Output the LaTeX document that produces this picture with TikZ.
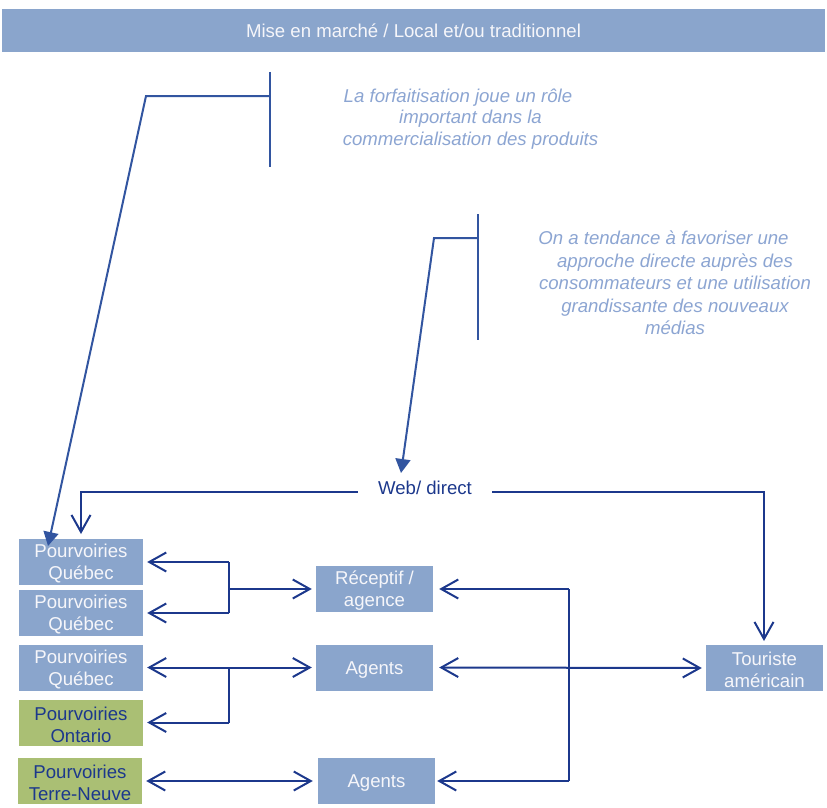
\documentclass[tikz,border=0pt]{standalone}
\usepackage{fontspec}
\setmainfont{Liberation Sans}
\usetikzlibrary{arrows.meta}
\definecolor{boxblue}{RGB}{138,165,204}
\definecolor{boxgreen}{RGB}{170,191,116}
\definecolor{navy}{RGB}{28,56,140}
\definecolor{callline}{RGB}{50,85,160}
\definecolor{calltext}{RGB}{140,165,210}
\definecolor{boxtext}{RGB}{246,246,250}
\newcommand{\lowstrut}{\rule{0pt}{17.5pt}}
\begin{document}
\begin{tikzpicture}[x=1pt,y=-1pt,
  bx/.style={rectangle, inner sep=0pt, minimum width=124pt, minimum height=46pt, align=center,
             font=\fontsize{18.6}{22}\selectfont},
  bluebox/.style={bx, fill=boxblue, text=boxtext},
  greenbox/.style={bx, fill=boxgreen, text=navy},
  smallbox/.style={minimum width=117pt},
  conn/.style={draw=navy, line width=2pt, >={Straight Barb[length=17pt,width=19pt]}},
  cl/.style={draw=callline, line width=2pt},
  clarrow/.style={cl, -{Triangle[length=14pt,width=15pt]}},
  calltxt/.style={align=center, text=calltext, inner sep=0pt}
]
\useasboundingbox (0,0) rectangle (827,808);

% title bar
\node[fill=boxblue, minimum width=823pt, minimum height=43pt, inner sep=0pt, text=boxtext,
      font=\fontsize{18.6}{22}\selectfont] (title) at (413.5,30.5) {Mise en marché / Local et/ou traditionnel};

% boxes
\node[bluebox] (pq1) at (81,562) {\lowstrut Pourvoiries\\Québec};
\node[bluebox] (pq2) at (81,613) {\lowstrut Pourvoiries\\Québec};
\node[bluebox] (pq3) at (81,667.5) {\lowstrut Pourvoiries\\Québec};
\node[greenbox] (po) at (81,722.5) {\lowstrut Pourvoiries\\Ontario};
\node[greenbox] (ptn) at (80,781) {\lowstrut Pourvoiries\\Terre-Neuve};
\node[bluebox, smallbox] (rec) at (374.5,589) {\lowstrut Réceptif /\\agence};
\node[bluebox, smallbox] (ag1) at (374.5,667.5) {\lowstrut Agents};
\node[bluebox, smallbox] (ag2) at (376.5,781) {\lowstrut Agents};
\node[bluebox, smallbox] (tour) at (764.5,668) {\lowstrut Touriste\\américain};

% web / direct
\node[text=navy, inner xsep=20pt, inner ysep=2pt, font=\fontsize{18.6}{22}\selectfont] (web) at (425,488) {Web/ direct};
\coordinate (wl) at (81,492);
\coordinate (wr) at (764,492);
\coordinate (wtipL) at (81,534);
\coordinate (wtipR) at (764,641);
\draw[conn,->] (web.west |- wl) -- (wl) -- (wtipL);
\draw[conn,->] (web.east |- wr) -- (wr) -- (wtipR);

% left brackets
\coordinate (j1a) at (229,562);
\coordinate (j1b) at (229,613);
\coordinate (j1m) at (229,589);
\draw[conn,->] (j1a) -- ([xshift=4pt]pq1.east);
\draw[conn] (j1a) -- (j1b);
\draw[conn,->] (j1b) -- ([xshift=4pt]pq2.east);
\draw[conn,->] (j1m) -- ([xshift=-4pt]rec.west);

\coordinate (j2a) at (229,667.5);
\coordinate (j2b) at (229,722.5);
\draw[conn,<->] ([xshift=4pt]pq3.east) -- ([xshift=-4pt]ag1.west);
\draw[conn] (j2a) -- (j2b);
\draw[conn,->] (j2b) -- ([xshift=4pt]po.east);

\draw[conn,<->] ([xshift=4pt]ptn.east) -- ([xshift=-5pt]ag2.west);

% right bracket
\coordinate (r1) at (569,589);
\coordinate (r2) at (569,781);
\draw[conn,->] (r1) -- ([xshift=6pt]rec.east);
\draw[conn] (r1) -- (r2);
\draw[conn,->] (r2) -- ([xshift=2pt]ag2.east);
\draw[conn,<->] ([xshift=6pt]ag1.east) -- ([xshift=-4pt]tour.west);

% callout 1
\coordinate (k1t) at (270,72);
\coordinate (k1b) at (270,167);
\coordinate (k1m) at (270,96);
\coordinate (k1e) at (146,96);
\coordinate (k1tip) at (48,546);
\draw[cl] (k1t) -- (k1b);
\draw[clarrow] (k1m) -- (k1e) -- (k1tip);
\node[calltxt, font=\itshape\fontsize{18.6}{21.5}\selectfont] (t1) at (470.5,119)
  {La forfaitisation joue un rôle\hspace*{25pt}\\important dans la\\commercialisation des produits};

% callout 2
\coordinate (k2t) at (478,214);
\coordinate (k2b) at (478,340);
\coordinate (k2m) at (478,238);
\coordinate (k2e) at (434,238);
\coordinate (k2tip) at (401,473);
\draw[cl] (k2t) -- (k2b);
\draw[clarrow] (k2m) -- (k2e) -- (k2tip);
\node[calltxt, font=\itshape\fontsize{18.6}{22.5}\selectfont] (t2) at (675,283)
  {On a tendance à favoriser une\hspace*{23pt}\\approche directe auprès des\\consommateurs et une utilisation\\grandissante des nouveaux\\médias};
\end{tikzpicture}
\end{document}
